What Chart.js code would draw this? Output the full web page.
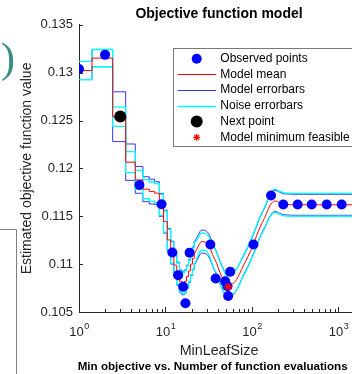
<!DOCTYPE html>
<html><head><meta charset="utf-8">
<style>
html,body{margin:0;padding:0;overflow:hidden;background:#fff;width:352px;height:374px}
#wrap{position:absolute;left:0;top:0;width:438px;height:374px}
</style>
<script src="https://cdn.jsdelivr.net/npm/chart.js@4.4.1/dist/chart.umd.min.js"></script>
</head><body><div id="wrap"><canvas id="c" width="438" height="374"></canvas></div>
<script>
// ---- data ----
const stepX = [1,2,3,4,5,6,7,8,9,10,11,12,13,14,15,16,17,18,19,20,21,22];
const stepMean = [0.13022,0.13152,0.1254,0.12065,0.1188,0.11783,0.11758,0.11741,0.11619,0.11444,0.11253,0.1112,0.1099,0.1090,0.1082,0.1080,0.1082,0.1087,0.1093,0.1100,0.1106,0.1112];
const stepModelErr = [0.00095,0.0009,0.0026,0.0019,0.0014,0.0013,0.0013,0.0012,0.0012,0.0012,0.0012,0.0012,0.0012,0.0012,0.0012,0.0012,0.0012,0.0012,0.0012,0.0012,0.0012,0.0012];
const stepNoiseErr = [0.00095,0.0009,0.0010,0.0011,0.0010,0.0010,0.0010,0.0010,0.0011,0.0011,0.0011,0.0011,0.0011,0.0011,0.0011,0.0011,0.0011,0.0011,0.0011,0.0011,0.0011,0.0011];

const smoothX = [22,24,26,29,32.7,35.7,39,42.7,46.6,51,55,60.8,66.5,79,90,104,123,141,161,184,210,235,350,600,1000,1726];
const smoothMean = [0.1112,0.1119,0.11235,0.1123,0.1117,0.1108,0.1101,0.1091,0.10835,0.10765,0.1077,0.1080,0.1084,0.1098,0.1108,0.1121,0.1138,0.1149,0.1161,0.1166,0.1164,0.11625,0.1162,0.1162,0.1162,0.1162];
const smoothModelErr = [0.0012,0.0012,0.0012,0.0012,0.0012,0.0012,0.0012,0.0012,0.0012,0.0012,0.0012,0.0012,0.0011,0.0010,0.0010,0.0010,0.0010,0.0010,0.0011,0.0011,0.0011,0.0011,0.0011,0.0011,0.0011,0.0011];
const smoothNoiseErr = [0.0011,0.0009,0.0009,0.0009,0.0010,0.0011,0.0011,0.0011,0.0011,0.0011,0.0011,0.0011,0.0011,0.0011,0.0011,0.0011,0.0011,0.0011,0.0012,0.0012,0.0012,0.0012,0.0012,0.0012,0.0012,0.0012];

const obsX = [1,2,5,9,12,19,14,16,17,33,38,56,49,53,52,104,166,230,337,490,730,1088];
const obsY = [0.13037,0.13186,0.11827,0.11625,0.11122,0.1112,0.10885,0.10764,0.10591,0.11205,0.1085,0.1092,0.1082,0.10667,0.1077,0.11205,0.11716,0.11622,0.11622,0.11622,0.11622,0.11622];
const nextX = [3];
const nextY = [0.12541];
const minX = [53];
const minY = [0.10765];

const yTickValues = [0.105,0.11,0.115,0.12,0.125,0.13,0.135];
const xDecades = [0,1,2,3];
const legendLabels = ['Observed points','Model mean','Model errorbars','Noise errorbars','Next point','Model minimum feasible'];
const titleText = 'Objective function model';
const xTitle = 'MinLeafSize';
const yTitle = 'Estimated objective function value';
const bottomText = 'Min objective vs. Number of function evaluations';

// ---- build ----
const FONT = "'Liberation Sans', Arial, Helvetica, sans-serif";
const AX = '#262626';
const BLUE_LINE = 'rgba(0,0,255,0.8)';
const CYAN = '#00FFFF';
const pts = (xs, ys) => xs.map((x, i) => ({x, y: ys[i]}));
const off = (xs, m, e, s) => xs.map((x, i) => ({x, y: m[i] + s * e[i]}));

function lineDs(data, color, width, order, stepped) {
  const d = {type:'line', data, borderColor: color, borderWidth: width, pointRadius: 0, fill: false, order};
  if (stepped) d.stepped = 'middle'; else d.cubicInterpolationMode = 'monotone';
  return d;
}

const datasets = [
  lineDs(off(stepX, stepMean, stepModelErr, 1), BLUE_LINE, 1, 6, true),
  lineDs(off(stepX, stepMean, stepModelErr, -1), BLUE_LINE, 1, 6, true),
  lineDs(off(smoothX, smoothMean, smoothModelErr, 1), BLUE_LINE, 1, 6, false),
  lineDs(off(smoothX, smoothMean, smoothModelErr, -1), BLUE_LINE, 1, 6, false),
  lineDs(off(stepX, stepMean, stepNoiseErr, 1), CYAN, 1.3, 5, true),
  lineDs(off(stepX, stepMean, stepNoiseErr, -1), CYAN, 1.3, 5, true),
  lineDs(off(smoothX, smoothMean, smoothNoiseErr, 1), CYAN, 1.3, 5, false),
  lineDs(off(smoothX, smoothMean, smoothNoiseErr, -1), CYAN, 1.3, 5, false),
  lineDs(pts(stepX, stepMean), '#FF0000', 1, 4, true),
  lineDs(pts(smoothX, smoothMean), '#FF0000', 1, 4, false),
  {type:'scatter', data: pts(obsX, obsY), showLine:false, pointRadius:5, pointBackgroundColor:'#0000FF', pointBorderWidth:0, order:3},
  {type:'scatter', data: pts(nextX, nextY), showLine:false, pointRadius:6, pointBackgroundColor:'#000', pointBorderWidth:0, order:2},
  {type:'scatter', data: pts(minX, minY), showLine:false, pointStyle:'star', pointRadius:4, pointBorderColor:'#FF0000', pointBorderWidth:1.3, order:1}
];

const extras = {
  id: 'extras',
  afterDraw(chart) {
    const ctx = chart.ctx;
    const xs = chart.scales.x, ys = chart.scales.y;
    const ca = chart.chartArea;
    ctx.save();
    // inward ticks
    ctx.strokeStyle = AX; ctx.lineWidth = 1;
    ctx.beginPath();
    ys.ticks.forEach(t => {
      const py = Math.round(ys.getPixelForValue(t.value)) + 0.5;
      ctx.moveTo(ca.left, py); ctx.lineTo(ca.left + 4, py);
    });
    xDecades.forEach(d => {
      for (let m = 1; m <= 9; m++) {
        const v = m * Math.pow(10, d);
        if (v > xs.max) break;
        const px = Math.round(xs.getPixelForValue(v)) + 0.5;
        ctx.moveTo(px, ca.bottom); ctx.lineTo(px, ca.bottom - (m === 1 ? 5 : 3));
      }
    });
    ctx.stroke();
    // x tick labels 10^d
    ctx.fillStyle = AX; ctx.textBaseline = 'alphabetic';
    xDecades.forEach(d => {
      const px = xs.getPixelForValue(Math.pow(10, d));
      ctx.font = '13px ' + FONT;
      const w1 = ctx.measureText('10').width;
      ctx.font = '9px ' + FONT;
      const w2 = ctx.measureText(String(d)).width;
      const x0 = px - (w1 + w2) / 2;
      ctx.font = '13px ' + FONT; ctx.textAlign = 'left';
      ctx.fillText('10', x0, 336);
      ctx.font = '9px ' + FONT;
      ctx.fillText(String(d), x0 + w1 + 0.5, 329);
    });
    // legend
    const lx = 173.5, ly = 48.5, lw = 184, lh = 98;
    ctx.fillStyle = '#fff'; ctx.fillRect(lx, ly, lw, lh);
    ctx.strokeStyle = '#7a7a7a'; ctx.lineWidth = 1; ctx.strokeRect(lx, ly, lw, lh);
    const rowY = i => 58.7 + i * 15.72;
    const mx = 196.7;
    ctx.fillStyle = '#0000FF'; ctx.beginPath(); ctx.arc(mx, rowY(0), 5, 0, Math.PI * 2); ctx.fill();
    [['#FF0000',1],[BLUE_LINE,1],[CYAN,1.3]].forEach((c, k) => {
      const y = Math.round(rowY(k + 1)) + 0.5;
      ctx.strokeStyle = c[0]; ctx.lineWidth = c[1];
      ctx.beginPath(); ctx.moveTo(177.7, y); ctx.lineTo(216, y); ctx.stroke();
    });
    ctx.fillStyle = '#000'; ctx.beginPath(); ctx.arc(mx, rowY(4), 6, 0, Math.PI * 2); ctx.fill();
    ctx.strokeStyle = '#FF0000'; ctx.lineWidth = 1.2;
    ctx.beginPath();
    const r = 3.5;
    for (let a = 0; a < 4; a++) {
      const ang = a * Math.PI / 4;
      ctx.moveTo(mx - r * Math.cos(ang), rowY(5) - r * Math.sin(ang));
      ctx.lineTo(mx + r * Math.cos(ang), rowY(5) + r * Math.sin(ang));
    }
    ctx.stroke();
    ctx.fillStyle = '#000'; ctx.font = '12px ' + FONT; ctx.textAlign = 'left'; ctx.textBaseline = 'middle';
    legendLabels.forEach((t, i) => ctx.fillText(t, 220.3, rowY(i)));
    // decorations from the surrounding page
    ctx.fillStyle = '#3c8c86'; ctx.font = "42px 'Liberation Serif', 'DejaVu Serif', serif";
    ctx.textBaseline = 'alphabetic'; ctx.textAlign = 'left';
    ctx.fillText(')', 1, 72);
    ctx.strokeStyle = '#808080'; ctx.lineWidth = 1;
    ctx.beginPath(); ctx.moveTo(0, 229.5); ctx.lineTo(16.5, 229.5); ctx.lineTo(16.5, 374); ctx.stroke();
    ctx.fillStyle = '#000'; ctx.font = 'bold 11.6px ' + FONT;
    ctx.fillText(bottomText, 77.7, 370);
    ctx.restore();
  }
};

new Chart(document.getElementById('c'), {
  type: 'line',
  data: { datasets },
  plugins: [extras],
  options: {
    responsive: false, animation: false, devicePixelRatio: 1,
    layout: { padding: { left: 0, right: 79, top: 0, bottom: 0 } },
    plugins: {
      legend: { display: false }, tooltip: { enabled: false },
      title: { display: true, text: titleText, fullSize: false, color: '#000',
               font: { family: FONT, size: 14, weight: 'bold' }, padding: { top: 6, bottom: 2 } }
    },
    scales: {
      x: {
        type: 'logarithmic', min: 1, max: 1726,
        grid: { display: false, drawTicks: false },
        border: { display: true, color: AX, width: 1 },
        ticks: { display: false },
        title: { display: true, text: xTitle, color: AX, font: { family: FONT, size: 14.3 }, padding: { top: 0, bottom: 14.6 } },
        afterFit: s => { s.height = 62; }
      },
      y: {
        type: 'linear', min: 0.105, max: 0.135,
        afterBuildTicks: s => { s.ticks = yTickValues.map(v => ({value: v})); },
        grid: { display: false, drawTicks: false },
        border: { display: true, color: AX, width: 1 },
        ticks: { color: AX, padding: 6, font: { family: FONT, size: 13 }, callback: v => String(parseFloat(Number(v).toFixed(3))) },
        title: { display: true, text: yTitle, color: AX, font: { family: FONT, size: 14 }, padding: { top: 18.6, bottom: 0 } },
        afterFit: s => { s.width = 79; }
      }
    }
  }
});
</script></body></html>
